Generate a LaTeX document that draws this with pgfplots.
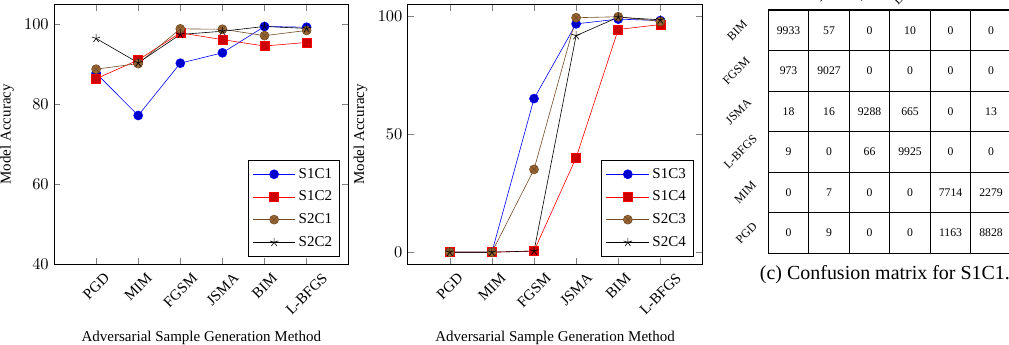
\documentclass[border=0pt]{standalone}
\usepackage{fontspec}
\setmainfont{Liberation Serif}
\usepackage{graphicx}
\usepackage{pgfplots}
\usepackage{pgfplotstable}
\pgfplotsset{compat=1.18}

% confusion matrix (rows: true class top->bottom, columns left->right)
\pgfplotstableread{
x y v
0.5 5.5 9933
1.5 5.5 57
2.5 5.5 0
3.5 5.5 10
4.5 5.5 0
5.5 5.5 0
0.5 4.5 973
1.5 4.5 9027
2.5 4.5 0
3.5 4.5 0
4.5 4.5 0
5.5 4.5 0
0.5 3.5 18
1.5 3.5 16
2.5 3.5 9288
3.5 3.5 665
4.5 3.5 0
5.5 3.5 13
0.5 2.5 9
1.5 2.5 0
2.5 2.5 66
3.5 2.5 9925
4.5 2.5 0
5.5 2.5 0
0.5 1.5 0
1.5 1.5 7
2.5 1.5 0
3.5 1.5 0
4.5 1.5 7714
5.5 1.5 2279
0.5 0.5 0
1.5 0.5 9
2.5 0.5 0
3.5 0.5 0
4.5 0.5 1163
5.5 0.5 8828
}\confdata

\pgfplotstableread{
x y v
-0.77 5.5 BIM
-0.79 4.5 FGSM
-0.74 3.5 JSMA
-0.69 2.5 L-BFGS
-0.57 1.5 MIM
-0.54 0.5 PGD
}\rowlabels

\pgfplotstableread{
x y v
0.5 6.55 BIM
1.5 6.55 FGSM
2.5 6.55 JSMA
3.5 6.55 L-BFGS
4.5 6.55 MIM
5.5 6.55 PGD
}\collabels

\pgfplotsset{
  accplot/.style={
    scale only axis,
    width=196.5pt, height=173pt,
    xmin=-1, xmax=6,
    xtick={0,1,2,3,4,5},
    xticklabels={\rotatebox{45}{PGD},\rotatebox{45}{MIM},\rotatebox{45}{FGSM},\rotatebox{45}{JSMA},\rotatebox{45}{BIM},\rotatebox{45}{L-BFGS}},
    xticklabel style={anchor=north, yshift=-2pt},
    yticklabel style={font=\fontsize{11}{13}\selectfont},
    ylabel={Model Accuracy},
    xlabel={Adversarial Sample Generation Method},
    xlabel style={yshift=-3pt},
    legend pos=south east,
    legend style={row sep=3pt, inner sep=3pt},
    legend image code/.code={\draw[mark repeat=2,mark phase=2] plot coordinates {(0cm,0cm) (0.5cm,0cm) (1.0cm,0cm)};},
    every axis plot/.append style={mark size=3pt},
  },
  txtplot/.style={only marks, mark=none,
    point meta=explicit symbolic, nodes near coords},
}

\begin{document}
\begin{tikzpicture}
\begin{axis}[accplot, at={(36pt,54pt)}, anchor=south west,
  ymin=40, ymax=105, ytick={40,60,80,100}]
\addplot coordinates {(0,87.8) (1,77.2) (2,90.3) (3,92.9) (4,99.5) (5,99.3)};
\addplot coordinates {(0,86.4) (1,91.1) (2,97.9) (3,96.2) (4,94.6) (5,95.5)};
\addplot coordinates {(0,88.8) (1,90.2) (2,98.9) (3,98.8) (4,97.2) (5,98.5)};
\addplot coordinates {(0,96.5) (1,90.4) (2,97.5) (3,98.3) (4,99.5) (5,99.0)};
\legend{S1C1,S1C2,S2C1,S2C2}
\end{axis}

\begin{axis}[accplot, at={(271.8pt,54pt)}, anchor=south west,
  ymin=-5, ymax=105, ytick={0,50,100}]
\addplot coordinates {(0,0) (1,0) (2,65.1) (3,96.8) (4,98.8) (5,98.2)};
\addplot coordinates {(0,0) (1,0) (2,0.5) (3,40.1) (4,94.4) (5,96.5)};
\addplot coordinates {(0,0) (1,0) (2,35.1) (3,99.4) (4,99.8) (5,97.8)};
\addplot coordinates {(0,0) (1,0) (2,0.5) (3,91.8) (4,99.6) (5,98.5)};
\legend{S1C3,S1C4,S2C3,S2C4}
\end{axis}

\begin{axis}[at={(512.2pt,61.1pt)}, anchor=south west,
  scale only axis, width=162pt, height=162.2pt,
  xmin=0, xmax=6, ymin=0, ymax=6,
  xtick={1,2,3,4,5}, ytick={1,2,3,4,5},
  xticklabels={}, yticklabels={},
  major tick length=0pt,
  grid=major, major grid style={black, line width=0.8pt},
  axis line style={black, line width=0.8pt},
  clip=false,
  xlabel={\fontsize{13.3}{16}\selectfont (c) Confusion matrix for S1C1.},
  xlabel style={at={(axis description cs:0.48,0)}, anchor=north, yshift=-4.5pt},
]
\addplot[txtplot,
  nodes near coords style={anchor=center, font=\fontsize{7.8}{9}\selectfont}]
  table[x=x, y=y, meta=v] {\confdata};
\addplot[txtplot,
  nodes near coords style={anchor=center, rotate=45, font=\fontsize{8}{9}\selectfont}]
  table[x=x, y=y, meta=v] {\rowlabels};
\addplot[txtplot,
  nodes near coords style={anchor=center, rotate=45, font=\fontsize{8}{9}\selectfont}]
  table[x=x, y=y, meta=v] {\collabels};
\end{axis}

\pgfresetboundingbox
\useasboundingbox (0,0) rectangle (672.67pt,230pt);
\end{tikzpicture}
\end{document}
